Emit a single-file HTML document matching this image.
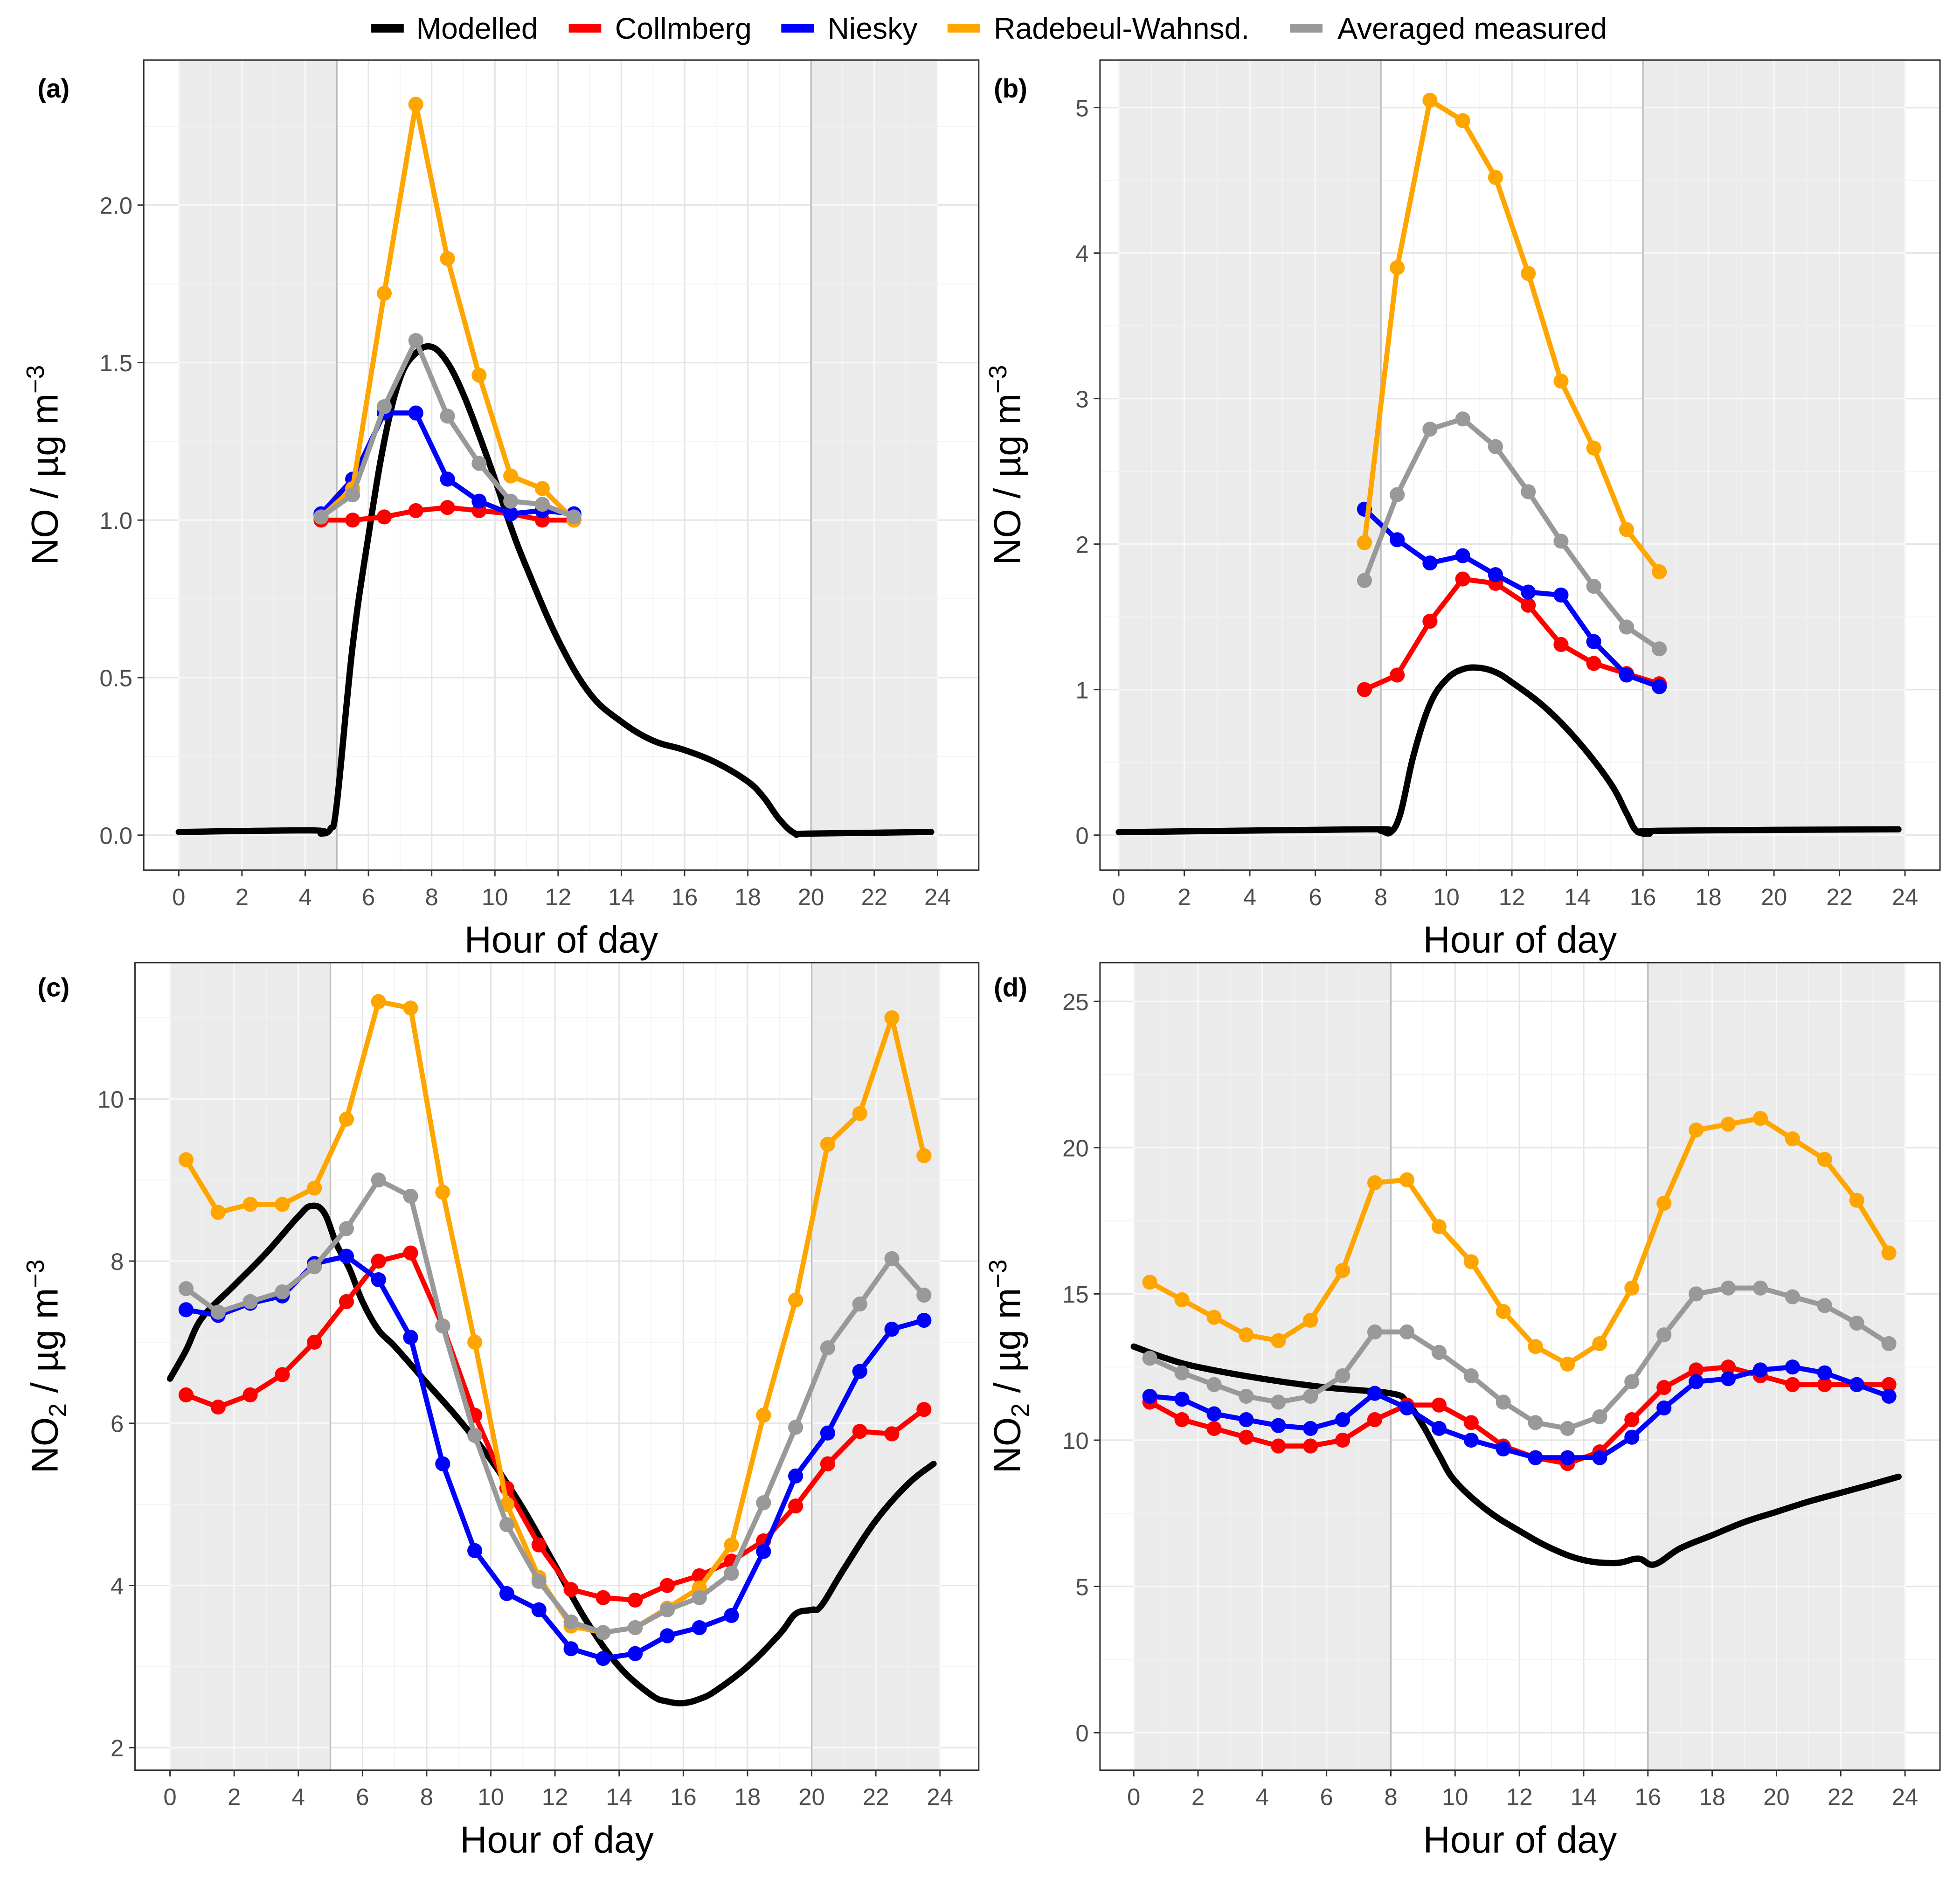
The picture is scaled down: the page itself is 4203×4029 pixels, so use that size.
<!DOCTYPE html>
<html><head><meta charset="utf-8"><style>
html,body{margin:0;padding:0;background:#fff}
svg{display:block}
text{font-family:"Liberation Sans",Arial,sans-serif}
</style></head><body>
<svg id="chart" width="4203" height="4029" viewBox="0 0 1568 1503" xmlns="http://www.w3.org/2000/svg">
<g id="legend">
<g><rect x="297" y="19" width="26" height="7" fill="#000"/><text x="333" y="31" font-size="24">Modelled</text></g>
<g><rect x="455" y="19" width="26" height="7" fill="#ff0000"/><text x="492" y="31" font-size="24">Collmberg</text></g>
<g><rect x="625" y="19" width="26" height="7" fill="#0000ff"/><text x="662" y="31" font-size="24">Niesky</text></g>
<g><rect x="758" y="19" width="26" height="7" fill="#ffa500"/><text x="795" y="31" font-size="24">Radebeul-Wahnsd.</text></g>
<g><rect x="1032" y="19" width="26" height="7" fill="#999"/><text x="1070" y="31" font-size="24">Averaged measured</text></g>
</g>
</svg>
<script>
// ---- data ----
const hoursA = [4.5,5.5,6.5,7.5,8.5,9.5,10.5,11.5,12.5];
const collA = [1.00,1.00,1.01,1.03,1.04,1.03,1.02,1.00,1.00];
const nieskyA = [1.02,1.13,1.34,1.34,1.13,1.06,1.02,1.03,1.02];
const radA = [1.01,1.10,1.72,2.32,1.83,1.46,1.14,1.10,1.00];
const avgA = [1.01,1.08,1.36,1.57,1.33,1.18,1.06,1.05,1.01];
const modelHA = [0,4.2,4.5,4.8,5.0,5.5,6,6.5,7,7.5,8,8.5,9,9.5,10,10.5,11,12,13,14,15,16,17,18,18.5,19,19.5,20,23.8];
const modelA = [0.01,0.015,0.005,0.02,0.1,0.6,0.95,1.25,1.45,1.53,1.55,1.5,1.4,1.27,1.13,0.98,0.85,0.62,0.45,0.36,0.3,0.27,0.23,0.17,0.12,0.05,0.005,0.005,0.01];

const hoursB = [7.5,8.5,9.5,10.5,11.5,12.5,13.5,14.5,15.5,16.5];
const collB = [1.0,1.1,1.47,1.76,1.73,1.58,1.31,1.18,1.11,1.04];
const nieskyB = [2.24,2.03,1.87,1.92,1.79,1.67,1.65,1.33,1.10,1.02];
const radB = [2.01,3.90,5.05,4.91,4.52,3.86,3.12,2.66,2.10,1.81];
const avgB = [1.75,2.34,2.79,2.86,2.67,2.36,2.02,1.71,1.43,1.28];
const modelHB = [0,7.5,8,8.3,8.6,9,9.5,10,10.5,11,11.5,12,13,14,15,15.5,15.8,16.2,16.5,23.8];
const modelB = [0.02,0.04,0.03,0.02,0.15,0.55,0.9,1.07,1.14,1.15,1.12,1.05,0.88,0.65,0.36,0.15,0.03,0.01,0.03,0.04];

const hoursCD = [0.5,1.5,2.5,3.5,4.5,5.5,6.5,7.5,8.5,9.5,10.5,11.5,12.5,13.5,14.5,15.5,16.5,17.5,18.5,19.5,20.5,21.5,22.5,23.5];
const collC = [6.35,6.2,6.35,6.6,7.0,7.5,8.0,8.1,7.2,6.1,5.2,4.5,3.95,3.85,3.82,4.0,4.12,4.3,4.55,4.98,5.5,5.9,5.87,6.17];
const nieskyC = [7.4,7.33,7.48,7.57,7.97,8.06,7.77,7.06,5.5,4.43,3.9,3.7,3.22,3.1,3.16,3.38,3.48,3.63,4.42,5.35,5.88,6.64,7.16,7.27];
const radC = [9.25,8.6,8.7,8.7,8.9,9.75,11.2,11.12,8.85,7.0,5.0,4.1,3.5,3.42,3.48,3.72,3.97,4.5,6.1,7.52,9.44,9.82,11.0,9.3];
const avgC = [7.66,7.37,7.5,7.62,7.93,8.4,9.0,8.8,7.2,5.85,4.75,4.05,3.55,3.42,3.48,3.7,3.85,4.15,5.02,5.95,6.93,7.47,8.03,7.58];
const modelHC = [0,0.5,1,2,3,4,4.4,4.8,5.2,5.6,6,6.5,7,8,9,10,11,12,13,14,15,15.5,16,16.5,17,18,19,19.5,20,20.3,21,22,23,23.8];
const modelC = [6.55,6.9,7.3,7.7,8.1,8.55,8.68,8.6,8.2,7.9,7.5,7.15,6.95,6.5,6.05,5.55,4.95,4.25,3.55,3.0,2.65,2.57,2.55,2.6,2.7,3.0,3.4,3.65,3.7,3.75,4.2,4.8,5.25,5.5];

const collD = [11.3,10.7,10.4,10.1,9.8,9.8,10.0,10.7,11.2,11.2,10.6,9.8,9.4,9.2,9.6,10.7,11.8,12.4,12.5,12.2,11.9,11.9,11.9,11.9];
const nieskyD = [11.5,11.4,10.9,10.7,10.5,10.4,10.7,11.6,11.1,10.4,10.0,9.7,9.4,9.4,9.4,10.1,11.1,12.0,12.1,12.4,12.5,12.3,11.9,11.5];
const radD = [15.4,14.8,14.2,13.6,13.4,14.1,15.8,18.8,18.9,17.3,16.1,14.4,13.2,12.6,13.3,15.2,18.1,20.6,20.8,21.0,20.3,19.6,18.2,16.4];
const avgD = [12.8,12.3,11.9,11.5,11.3,11.5,12.2,13.7,13.7,13.0,12.2,11.3,10.6,10.4,10.8,12.0,13.6,15.0,15.2,15.2,14.9,14.6,14.0,13.3];
const modelHD = [0,1,2,4,6,8,8.5,9,9.5,10,11,12,13,14,15,15.7,16.2,17,18,19,20,21,22,23,23.8];
const modelD = [13.2,12.8,12.5,12.1,11.8,11.6,11.3,10.5,9.5,8.6,7.6,6.9,6.3,5.9,5.8,5.95,5.75,6.3,6.75,7.2,7.55,7.9,8.2,8.5,8.75];

const xTicks = [0,2,4,6,8,10,12,14,16,18,20,22,24];
const yTicksA = [0,0.5,1,1.5,2], yLabA = ["0.0","0.5","1.0","1.5","2.0"];
const yTicksB = [0,1,2,3,4,5], yLabB = ["0","1","2","3","4","5"];
const yTicksC = [2,4,6,8,10], yLabC = ["2","4","6","8","10"];
const yTicksD = [0,5,10,15,20,25], yLabD = ["0","5","10","15","20","25"];

const NS = "http://www.w3.org/2000/svg";
const svg = document.getElementById('chart');
function mk(tag, attrs, parent){const e=document.createElementNS(NS,tag);for(const k in attrs)e.setAttribute(k,attrs[k]);(parent||svg).appendChild(e);return e;}

function smoothPath(pts){
  let d='M'+pts[0][0]+','+pts[0][1];
  for(let i=0;i<pts.length-1;i++){
    const p0=pts[Math.max(0,i-1)],p1=pts[i],p2=pts[i+1],p3=pts[Math.min(pts.length-1,i+2)];
    const t=0.18;
    const c1=[p1[0]+(p2[0]-p0[0])*t,p1[1]+(p2[1]-p0[1])*t];
    const c2=[p2[0]-(p3[0]-p1[0])*t,p2[1]-(p3[1]-p1[1])*t];
    d+=' C'+c1[0]+','+c1[1]+' '+c2[0]+','+c2[1]+' '+p2[0]+','+p2[1];
  }
  return d;
}

function panel(cfg){
  const g = mk('g',{});
  
  
  const X = h => cfg.x0 + h*(cfg.x24-cfg.x0)/24;
  const Y = v => cfg.yA + (v-cfg.vA)*(cfg.yB-cfg.yA)/(cfg.vB-cfg.vA);
  const L=cfg.L,R=cfg.R,T=cfg.T,B=cfg.B;
  const vMin = cfg.vA + (B-cfg.yA)*(cfg.vB-cfg.vA)/(cfg.yB-cfg.yA);
  const vMax = cfg.vA + (T-cfg.yA)*(cfg.vB-cfg.vA)/(cfg.yB-cfg.yA);
  const step = cfg.yTicks[1]-cfg.yTicks[0];
  const yGrid=[];
  for(let k=Math.ceil(vMin/(step/2)); k*(step/2)<=vMax; k++){ yGrid.push([k*step/2, k%2===0]); }
  for(let h=0;h<=24;h++){
    mk('line',{x1:X(h),x2:X(h),y1:T,y2:B,stroke:h%2?'#f3f3f3':'#e5e5e5','stroke-width':h%2?0.7:1.2},g);
  }
  yGrid.forEach(([v,major])=>mk('line',{x1:L,x2:R,y1:Y(v),y2:Y(v),stroke:major?'#e5e5e5':'#f3f3f3','stroke-width':major?1.2:0.7},g));
  cfg.shade.forEach(s=>{
    const x1=X(s[0]),x2=X(s[1]);
    const r = mk('rect',{x:x1,y:T,width:x2-x1,height:B-T,fill:'#ebebeb'},g);
    
    
    for(let h=s[0];h<=s[1];h++){
      mk('line',{x1:X(h),x2:X(h),y1:T,y2:B,stroke:h%2?'#f2f2f2':'#f8f8f8','stroke-width':h%2?0.7:1.2},g);
    }
    yGrid.forEach(([v,major])=>mk('line',{x1:x1,x2:x2,y1:Y(v),y2:Y(v),stroke:major?'#f8f8f8':'#f2f2f2','stroke-width':major?1.2:0.7},g));
    [s[0],s[1]].forEach(b=>{ if(b>0&&b<24) mk('line',{x1:X(b),x2:X(b),y1:T,y2:B,stroke:'#bdbdbd','stroke-width':1.2},g); });
  });
  const ml = mk('path',{d:smoothPath(cfg.mh.map((h,i)=>[X(h),Y(cfg.mv[i])])),fill:'none',stroke:'#000','stroke-width':5,'stroke-linejoin':'round','stroke-linecap':'round'},g);
  
  
  cfg.series.forEach(s=>{
    const sg = mk('g',{},g);
    
    
    mk('polyline',{points:cfg.hours.map((h,i)=>X(h)+','+Y(s.v[i])).join(' '),fill:'none',stroke:s.c,'stroke-width':4,'stroke-linejoin':'round'},sg);
    cfg.hours.forEach((h,i)=>{
      const c = mk('circle',{cx:X(h),cy:Y(s.v[i]),r:6,fill:s.c},sg);
      
      
    });
  });
  mk('rect',{x:L,y:T,width:R-L,height:B-T,fill:'none',stroke:'#333','stroke-width':1.1},g);
  xTicks.forEach(t=>{
    mk('line',{x1:X(t),x2:X(t),y1:B,y2:B+5,stroke:'#333','stroke-width':1.1},g);
    const tx = mk('text',{x:X(t),y:B+28,'font-size':19,'text-anchor':'middle',fill:'#4d4d4d'},g);
    tx.textContent = t;
    
    
  });
  cfg.yTicks.forEach((t,i)=>{
    mk('line',{x1:L-5,x2:L,y1:Y(t),y2:Y(t),stroke:'#333','stroke-width':1.1},g);
    const ty = mk('text',{x:L-9,y:Y(t)+7,'font-size':19,'text-anchor':'end',fill:'#4d4d4d'},g);
    ty.textContent = cfg.yLab[i];
    
    
  });
  const xt = mk('text',{x:(L+R)/2,y:B+66,'font-size':30,'text-anchor':'middle',fill:'#000'},g);
  xt.textContent = 'Hour of day';
  
  
  const yt = mk('text',{x:0,y:0,'font-size':30,'text-anchor':'middle',fill:'#000',transform:'translate('+cfg.ytx+','+((T+B)/2)+') rotate(-90)'},g);
  yt.innerHTML = cfg.no2 ? 'NO<tspan font-size="20" dy="7">2</tspan><tspan dy="-7"> / µg m</tspan><tspan font-size="20" dy="-11">−3</tspan>' : 'NO / µg m<tspan font-size="20" dy="-11">−3</tspan>';
  
  
  const pl = mk('text',{x:cfg.lx,y:cfg.ly,'font-size':21,'font-weight':'bold',fill:'#000'},g);
  pl.textContent = '('+cfg.id+')';
  
  
}

const ser = (c,n,r,a)=>[{name:'collmberg',c:'#ff0000',v:c},{name:'niesky',c:'#0000ff',v:n},{name:'radebeul',c:'#ffa500',v:r},{name:'averaged',c:'#999999',v:a}];

panel({id:'a',L:115,R:783,T:48,B:696,x0:143,x24:750,yA:668,vA:0,yB:164,vB:2,shade:[[0,5],[20,24]],
  hours:hoursA,series:ser(collA,nieskyA,radA,avgA),mh:modelHA,mv:modelA,yTicks:yTicksA,yLab:yLabA,ytx:46,lx:30,ly:78});
panel({id:'b',L:880,R:1552,T:48,B:696,x0:895,x24:1524,yA:668,vA:0,yB:86,vB:5,shade:[[0,8],[16,24]],
  hours:hoursB,series:ser(collB,nieskyB,radB,avgB),mh:modelHB,mv:modelB,yTicks:yTicksB,yLab:yLabB,ytx:816,lx:795,ly:78});
panel({id:'c',L:108,R:783,T:770,B:1416,x0:136,x24:752,yA:1398,vA:2,yB:879,vB:10,shade:[[0,5],[20,24]],
  hours:hoursCD,series:ser(collC,nieskyC,radC,avgC),mh:modelHC,mv:modelC,yTicks:yTicksC,yLab:yLabC,ytx:46,lx:30,ly:797,no2:true});
panel({id:'d',L:880,R:1552,T:770,B:1416,x0:907,x24:1524,yA:1386,vA:0,yB:801,vB:25,shade:[[0,8],[16,24]],
  hours:hoursCD,series:ser(collD,nieskyD,radD,avgD),mh:modelHD,mv:modelD,yTicks:yTicksD,yLab:yLabD,ytx:816,lx:795,ly:797,no2:true});
</script>
</body></html>
